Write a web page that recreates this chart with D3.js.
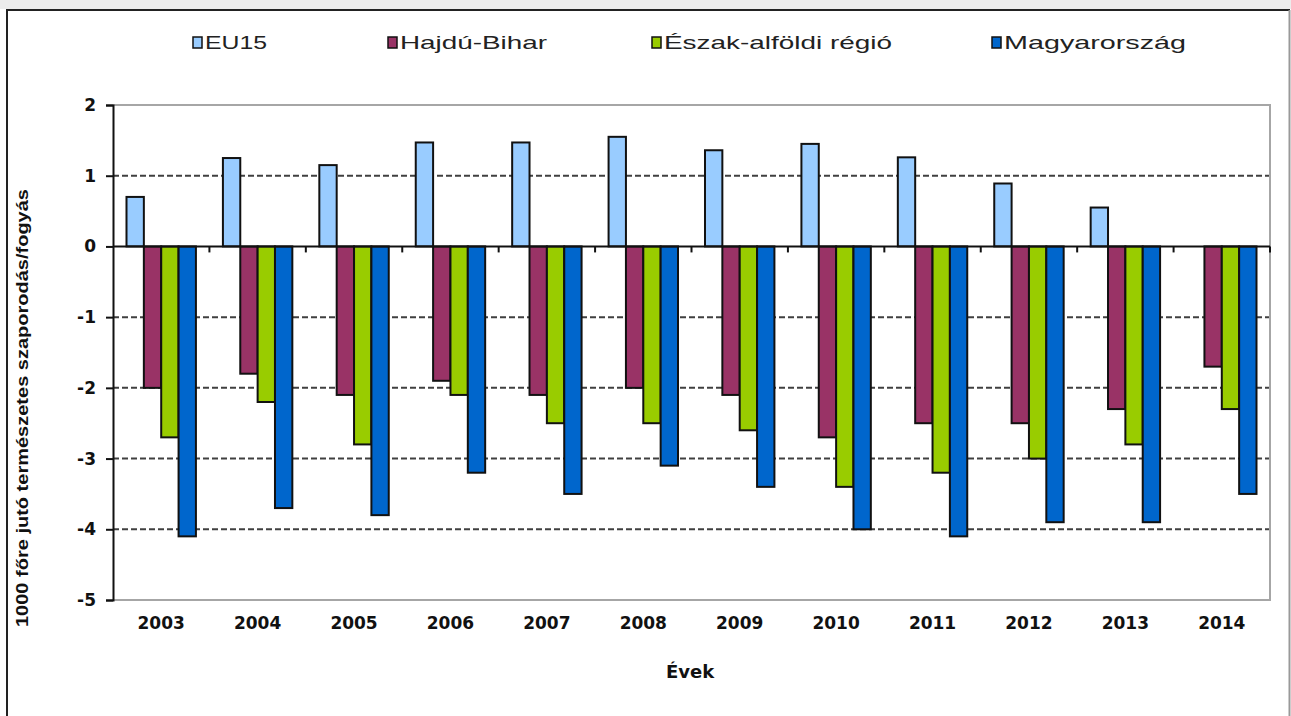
<!DOCTYPE html>
<html>
<head>
<meta charset="utf-8">
<script src="https://cdn.jsdelivr.net/npm/d3@7"></script>
<style>
  body { margin: 0; background: #fff; }
  svg { display: block; }
</style>
</head>
<body>
<svg id="chart"></svg>
<script>
// chart values
const years = ["2003", "2004", "2005", "2006", "2007", "2008", "2009", "2010", "2011", "2012", "2013", "2014"];
const seriesNames = ["EU15", "Hajdú-Bihar", "Észak-alföldi régió", "Magyarország"];
const eu15 = [0.7, 1.25, 1.15, 1.47, 1.47, 1.55, 1.36, 1.45, 1.26, 0.89, 0.55, 0];
const hajduBihar = [-2.0, -1.8, -2.1, -1.9, -2.1, -2.0, -2.1, -2.7, -2.5, -2.5, -2.3, -1.7];
const eszakAlfold = [-2.7, -2.2, -2.8, -2.1, -2.5, -2.5, -2.6, -3.4, -3.2, -3.0, -2.8, -2.3];
const magyarorszag = [-4.1, -3.7, -3.8, -3.2, -3.5, -3.1, -3.4, -4.0, -4.1, -3.9, -3.9, -3.5];
const yTicks = [2, 1, 0, -1, -2, -3, -4, -5];

const seriesValues = [eu15, hajduBihar, eszakAlfold, magyarorszag];
const colors = ["#99ccff", "#993366", "#99cc00", "#0066cc"];

const width = 1291, height = 716;
const plot = { left: 113, right: 1270, top: 105, bottom: 600 };

const svg = d3.select("#chart").attr("width", width).attr("height", height);

// outer frame
svg.append("rect").attr("x", 0).attr("y", 0).attr("width", width).attr("height", 9).attr("fill", "#ececec");
svg.append("line").attr("x1", 6).attr("x2", 1290).attr("y1", 10).attr("y2", 10)
    .attr("stroke", "#222").attr("stroke-width", 2);
svg.append("line").attr("x1", 7).attr("x2", 7).attr("y1", 10).attr("y2", height)
    .attr("stroke", "#222").attr("stroke-width", 2);
svg.append("line").attr("x1", 1289.5).attr("x2", 1289.5).attr("y1", 10).attr("y2", height)
    .attr("stroke", "#999").attr("stroke-width", 2);

const x = d3.scaleBand()
    .domain(years)
    .range([plot.left, plot.right])
    .paddingInner(0.28)
    .paddingOuter(0.14);

const xs = d3.scaleBand()
    .domain(seriesNames)
    .range([0, x.bandwidth()]);

const y = d3.scaleLinear()
    .domain([-5, 2])
    .range([plot.bottom, plot.top]);

// gridlines
svg.append("g")
    .selectAll("line")
    .data(yTicks.filter(d => d !== 0 && d !== 2 && d !== -5))
    .join("line")
    .attr("x1", plot.left).attr("x2", plot.right)
    .attr("y1", d => y(d)).attr("y2", d => y(d))
    .attr("stroke", "#404040")
    .attr("stroke-width", 2)
    .attr("stroke-dasharray", "6,3");

// plot area border (top, right, bottom)
svg.append("path")
    .attr("d", `M${plot.left},${plot.top}H${plot.right}V${plot.bottom}H${plot.left}`)
    .attr("fill", "none")
    .attr("stroke", "#a6a6a6")
    .attr("stroke-width", 2);

// bars
const rows = [];
years.forEach((yr, i) => {
    seriesNames.forEach((s, j) => rows.push({ year: yr, series: s, value: seriesValues[j][i], color: colors[j] }));
});

svg.append("g")
    .selectAll("rect")
    .data(rows.filter(d => d.value !== 0))
    .join("rect")
    .attr("x", d => x(d.year) + xs(d.series))
    .attr("y", d => y(Math.max(0, d.value)))
    .attr("width", xs.bandwidth())
    .attr("height", d => Math.abs(y(d.value) - y(0)))
    .attr("fill", d => d.color)
    .attr("stroke", "#111")
    .attr("stroke-width", 2);

// x axis at zero, ticks between categories
const xAxisTicks = years.map(yr => x(yr) - x.step() * x.paddingInner() / 2).concat([plot.right]);
svg.append("line")
    .attr("x1", plot.left).attr("x2", plot.right)
    .attr("y1", y(0)).attr("y2", y(0))
    .attr("stroke", "#111").attr("stroke-width", 2);
svg.append("g")
    .selectAll("line")
    .data(xAxisTicks.slice(1))
    .join("line")
    .attr("x1", d => d).attr("x2", d => d)
    .attr("y1", y(0)).attr("y2", y(0) + 6)
    .attr("stroke", "#111").attr("stroke-width", 2);

// y axis
const yAxis = d3.axisLeft(y)
    .tickValues(yTicks)
    .tickSize(7)
    .tickPadding(10)
    .tickFormat(d3.format("d"));

const yg = svg.append("g")
    .attr("transform", `translate(${plot.left},0)`)
    .call(yAxis);
yg.select(".domain").attr("stroke", "#111").attr("stroke-width", 2);
yg.selectAll(".tick line").attr("stroke", "#111").attr("stroke-width", 2);
yg.selectAll(".tick text")
    .attr("font-family", "DejaVu Sans, Verdana, sans-serif")
    .attr("font-weight", "bold")
    .attr("font-size", 17)
    .attr("fill", "#111")
    .text(d => d < 0 ? "-" + Math.abs(d) : d);

// year labels below the plot
svg.append("g")
    .selectAll("text")
    .data(years)
    .join("text")
    .attr("x", d => x(d) + x.bandwidth() / 2)
    .attr("y", 629)
    .attr("text-anchor", "middle")
    .attr("font-family", "DejaVu Sans, Verdana, sans-serif")
    .attr("font-weight", "bold")
    .attr("font-size", 17)
    .attr("fill", "#111")
    .text(d => d);

// axis titles
svg.append("text")
    .attr("x", 690)
    .attr("y", 678)
    .attr("text-anchor", "middle")
    .attr("font-family", "DejaVu Sans, Verdana, sans-serif")
    .attr("font-weight", "bold")
    .attr("font-size", 18)
    .attr("fill", "#111")
    .text("Évek");

svg.append("text")
    .attr("transform", "translate(28,408) rotate(-90)")
    .attr("text-anchor", "middle")
    .attr("font-family", "Liberation Sans, Arial, sans-serif")
    .attr("font-weight", "bold")
    .attr("font-size", 17)
    .attr("textLength", 438)
    .attr("lengthAdjust", "spacingAndGlyphs")
    .attr("fill", "#111")
    .text("1000 főre jutó természetes szaporodás/fogyás");

// legend
const legendX = [193, 388, 652, 992];
const legendW = [66, 151, 232, 186];
const legend = svg.append("g")
    .selectAll("g")
    .data(seriesNames)
    .join("g")
    .attr("transform", (d, i) => `translate(${legendX[i]},42)`);

legend.append("rect")
    .attr("x", 0).attr("y", -5)
    .attr("width", 9).attr("height", 11)
    .attr("fill", (d, i) => colors[i])
    .attr("stroke", "#111")
    .attr("stroke-width", 1.5);

legend.append("text")
    .attr("x", 12)
    .attr("y", 7)
    .attr("font-family", "Liberation Sans, Arial, sans-serif")
    .attr("font-size", 19)
    .attr("textLength", (d, i) => legendW[i] - 4)
    .attr("lengthAdjust", "spacingAndGlyphs")
    .attr("fill", "#222")
    .text(d => d);
</script>
</body>
</html>
